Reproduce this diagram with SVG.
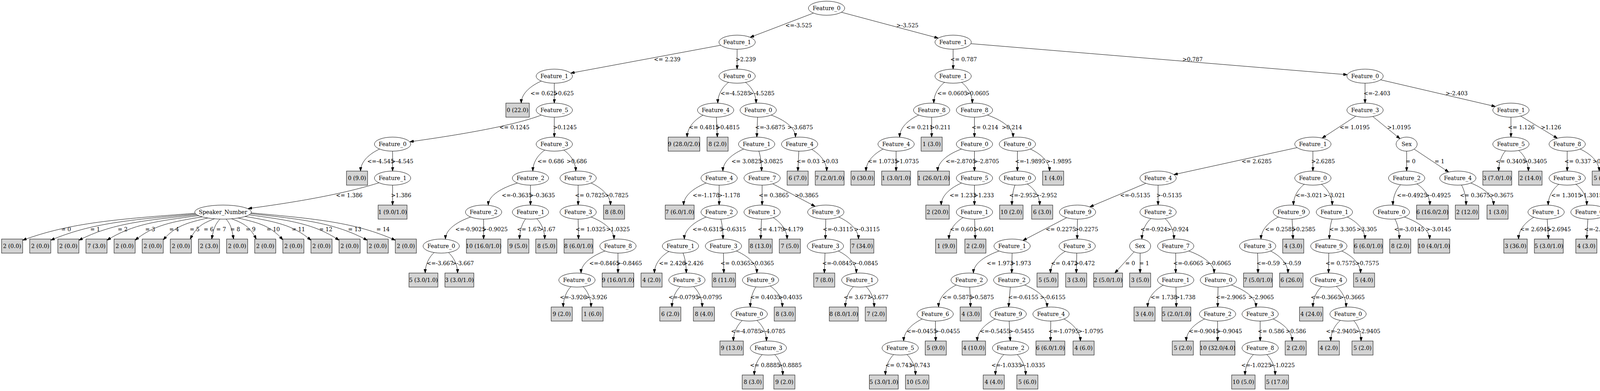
<svg xmlns="http://www.w3.org/2000/svg" width="4194" height="1001" viewBox="0 0 4194 1001">
<defs>
<style>
text{font-family:"DejaVu Serif",serif;font-size:14px;text-anchor:middle;fill:#000}
.n ellipse{fill:none;stroke:#000;stroke-width:1}
.l rect{fill:#d3d3d3;stroke:#000;stroke-width:1}
#edges path{fill:none;stroke:#000;stroke-width:1;marker-end:url(#ah)}
</style>
<marker id="ah" viewBox="0 0 10 7" refX="10" refY="3.5" markerWidth="10" markerHeight="7" markerUnits="userSpaceOnUse" orient="auto"><path d="M0,0L10,3.5L0,7z" fill="#000" stroke="#000" stroke-width="1"/></marker>
</defs>
<rect width="4194" height="1001" fill="#fff"/>
<g id="edges">
<g><path d="M2082.5,33.5L1920.5,95.5"/><text x="2044.6" y="69.5">&lt;=-3.525</text></g>
<g><path d="M2154,31.4L2402,97.6"/><text x="2323" y="69.5">&gt;-3.525</text></g>
<g><path d="M1845,115.8L1461,187.2"/><text x="1708" y="156.5">&lt;= 2.239</text></g>
<g><path d="M1887,126L1887,177"/><text x="1909" y="156.5">&gt;2.239</text></g>
<g><path d="M2440,126L2440,177"/><text x="2467" y="156.5">&lt;= 0.787</text></g>
<g><path d="M2485.5,111.8L3449,191.3"/><text x="3053" y="156.5">&gt;0.787</text></g>
<g><path d="M1386,207.5c-25.8,11.3 -51.6,31.1 -51.6,56.5"/><text x="1392" y="243.5">&lt;= 0.625</text></g>
<g><path d="M1419,213L1419,264"/><text x="1443" y="243.5">&gt;0.625</text></g>
<g><path d="M1865,210.8c-13.75,10.6 -27.5,29.3 -27.5,53.2"/><text x="1883" y="243.5">&lt;=-4.5285</text></g>
<g><path d="M1908.6,210.9c13.5,10.6 27,29.2 27,53.1"/><text x="1950" y="243.5">&gt;-4.5285</text></g>
<g><path d="M2418,210.8c-13.75,10.6 -27.5,29.3 -27.5,53.2"/><text x="2438" y="243.5">&lt;= 0.0605</text></g>
<g><path d="M2461.8,210.85c13.65,10.6 27.3,29.2 27.3,53.15"/><text x="2502" y="243.5">&gt;0.0605</text></g>
<g><path d="M3494.5,213L3494.5,264"/><text x="3525" y="243.5">&lt;=-2.403</text></g>
<g><path d="M3534.3,204.3L3828.2,272.7"/><text x="3729" y="243.5">&gt;-2.403</text></g>
<g><path d="M1385,295C1340,312 1250,335 1049,363"/><text x="1317" y="330.5">&lt;= 0.1245</text></g>
<g><path d="M1419,300L1419,351"/><text x="1446" y="330.5">&gt;0.1245</text></g>
<g><path d="M1799.6,294.8c-20.25,11.2 -40.5,30.9 -40.5,56.2"/><text x="1802" y="330.5">&lt;= 0.4815</text></g>
<g><path d="M1834,300L1836.5,351"/><text x="1863" y="330.5">&gt;0.4815</text></g>
<g><path d="M1939.4,300L1937.4,351"/><text x="1971.5" y="330.5">&lt;=-3.6875</text></g>
<g><path d="M1974,294.5c31.2,11.3 62.4,31.1 62.4,56.5"/><text x="2048.5" y="330.5">&gt;-3.6875</text></g>
<g><path d="M2352,294.5c-24.45,11.3 -48.9,31.1 -48.9,56.5"/><text x="2354" y="330.5">&lt;= 0.211</text></g>
<g><path d="M2385,300L2385,351"/><text x="2408" y="330.5">&gt;0.211</text></g>
<g><path d="M2494.6,300L2494.6,351"/><text x="2521.5" y="330.5">&lt;= 0.214</text></g>
<g><path d="M2527.6,294.5c32.95,11.3 65.9,31.1 65.9,56.5"/><text x="2590.5" y="330.5">&gt;0.214</text></g>
<g><path d="M3470.8,297.5L3384.7,353.5"/><text x="3468" y="330.5">&lt;= 1.0195</text></g>
<g><path d="M3514.4,298.3L3584,355.1"/><text x="3581.5" y="330.5">&gt;1.0195</text></g>
<g><path d="M3868,300L3868,351"/><text x="3894.5" y="330.5">&lt;= 1.126</text></g>
<g><path d="M3893.1,297.2L3986.9,353.9"/><text x="3970.5" y="330.5">&gt;1.126</text></g>
<g><path d="M972,381.5c-24.5,11.3 -48.9,31.1 -48.9,56.5"/><text x="974.5" y="417.5">&lt;=-4.545</text></g>
<g><path d="M1005,387L1005,438"/><text x="1030" y="417.5">&gt;-4.545</text></g>
<g><path d="M1394.6,384.3c-15.3,10.7 -30.5,29.5 -30.5,53.7"/><text x="1410" y="417.5">&lt;= 0.686</text></g>
<g><path d="M1443.4,384.3c15.3,10.7 30.5,29.5 30.5,53.7"/><text x="1476.5" y="417.5">&gt;0.686</text></g>
<g><path d="M1904,381.5c-26.7,11.3 -53.4,31.1 -53.4,56.5"/><text x="1911" y="417.5">&lt;= 3.0825</text></g>
<g><path d="M1942.6,386.9c3.5,10.2 7,28.1 7,51.1"/><text x="1974" y="417.5">&gt;3.0825</text></g>
<g><path d="M2045,387L2042.5,438"/><text x="2068.5" y="417.5">&lt;= 0.03</text></g>
<g><path d="M2077.8,382.4c19.25,11.1 38.5,30.6 38.5,55.6"/><text x="2124.5" y="417.5">&gt;0.03</text></g>
<g><path d="M2261,381.5c-22,11.3 -43.95,31.1 -43.95,56.5"/><text x="2260" y="417.5">&lt;= 1.0735</text></g>
<g><path d="M2294,387L2294,438"/><text x="2322" y="417.5">&gt;1.0735</text></g>
<g><path d="M2461.6,381.5c-30.55,11.3 -61.1,31.1 -61.1,56.5"/><text x="2459.5" y="417.5">&lt;=-2.8705</text></g>
<g><path d="M2494.6,387L2494.6,438"/><text x="2525" y="417.5">&gt;-2.8705</text></g>
<g><path d="M2604.5,387L2604.5,438"/><text x="2637" y="417.5">&lt;=-1.9895</text></g>
<g><path d="M2637.5,381.5c24.7,11.3 49.35,31.1 49.35,56.5"/><text x="2710.5" y="417.5">&gt;-1.9895</text></g>
<g><path d="M3320.6,377.9L3005.1,447.1"/><text x="3217" y="417.5">&lt;= 2.6285</text></g>
<g><path d="M3361,387L3361,438"/><text x="3387" y="417.5">&gt;2.6285</text></g>
<g><path d="M3601,387L3601,438"/><text x="3611" y="417.5">= 0</text></g>
<g><path d="M3620.1,381.7L3708.6,440.5"/><text x="3685" y="417.5">= 1</text></g>
<g><path d="M3854,386.15c-8.75,10.4 -17.5,28.5 -17.5,51.85"/><text x="3867.5" y="417.5">&lt;= 0.3405</text></g>
<g><path d="M3887.9,385.2c12.4,10.6 24.8,29 24.8,52.8"/><text x="3930" y="417.5">&gt;0.3405</text></g>
<g><path d="M4012,387L4012,438"/><text x="4039" y="417.5">&lt;= 0.337</text></g>
<g><path d="M4045,381.5c24.45,11.3 48.9,31.1 48.9,56.5"/><text x="4103" y="417.5">&gt;0.337</text></g>
<g><path d="M970,468C900,490 800,512 635,534"/><text x="894" y="504.5">&lt;= 1.386</text></g>
<g><path d="M1005,474L1005,525"/><text x="1027" y="504.5">&gt;1.386</text></g>
<g><path d="M1325,468.5c-37.5,11.3 -75,31.1 -75,56.5"/><text x="1323" y="504.5">&lt;=-0.3635</text></g>
<g><path d="M1358,474L1358,525"/><text x="1388" y="504.5">&gt;-0.3635</text></g>
<g><path d="M1480,474L1480,525"/><text x="1510.5" y="504.5">&lt;= 0.7825</text></g>
<g><path d="M1513,468.5c24.9,11.3 49.8,31.1 49.8,56.5"/><text x="1578.5" y="504.5">&gt;0.7825</text></g>
<g><path d="M1808,468.5c-28.95,11.3 -57.9,31.1 -57.9,56.5"/><text x="1807.5" y="504.5">&lt;=-1.178</text></g>
<g><path d="M1841,474L1841,525"/><text x="1866.5" y="504.5">&gt;-1.178</text></g>
<g><path d="M1951,474L1951,525"/><text x="1981" y="504.5">&lt;= 0.3865</text></g>
<g><path d="M1978.3,470.6L2086.7,528.4"/><text x="2065" y="504.5">&gt;0.3865</text></g>
<g><path d="M2461.6,468.5c-26.05,11.3 -52.1,31.1 -52.1,56.5"/><text x="2465" y="504.5">&lt;= 1.233</text></g>
<g><path d="M2494.6,474L2494.6,525"/><text x="2518.5" y="504.5">&gt;1.233</text></g>
<g><path d="M2598.3,473.8c-3.9,10.2 -7.75,28.2 -7.75,51.2"/><text x="2618" y="504.5">&lt;=-2.952</text></g>
<g><path d="M2629.9,471c15.9,10.8 31.75,29.7 31.75,54"/><text x="2678" y="504.5">&gt;-2.952</text></g>
<g><path d="M2933.3,469.3L2789.9,529.7"/><text x="2906" y="504.5">&lt;=-0.5135</text></g>
<g><path d="M2964.7,474L2964.7,525"/><text x="2993" y="504.5">&gt;-0.5135</text></g>
<g><path d="M3338.9,471.8c-13.8,10.6 -27.6,29.3 -27.6,53.2"/><text x="3351" y="504.5">&lt;=-3.021</text></g>
<g><path d="M3383,471.8c13.75,10.6 27.5,29.3 27.5,53.2"/><text x="3415.5" y="504.5">&gt;-3.021</text></g>
<g><path d="M3585.4,472.9c-9.75,10.4 -19.5,28.7 -19.5,52.1"/><text x="3614.5" y="504.5">&lt;=-0.4925</text></g>
<g><path d="M3627.4,470.7c16.5,10.9 33,29.9 33,54.3"/><text x="3681.5" y="504.5">&gt;-0.4925</text></g>
<g><path d="M3741.4,473.6c5.9,10.3 11.8,28.3 11.8,51.4"/><text x="3776" y="504.5">&lt;= 0.3675</text></g>
<g><path d="M3765,468.5c29.25,11.3 58.5,31.1 58.5,56.5"/><text x="3844" y="504.5">&gt;0.3675</text></g>
<g><path d="M3990.4,471.9c-13.5,10.6 -27,29.2 -27,53.1"/><text x="4009.5" y="504.5">&lt;= 1.3015</text></g>
<g><path d="M4034.3,471.75c13.9,10.65 27.8,29.3 27.8,53.25"/><text x="4072.5" y="504.5">&gt;1.3015</text></g>
<g><path d="M499,546C300.5,561.2 181.5,569.5 58,615"/><text x="169" y="591.5">= 0</text></g>
<g><path d="M501,548C334,562.7 233.9,570.8 130,615"/><text x="243.5" y="591.5">= 1</text></g>
<g><path d="M504,550C368.1,564.3 286.6,572.1 202,615"/><text x="314" y="591.5">= 2</text></g>
<g><path d="M509,552C403.3,565.9 339.8,573.4 274,615"/><text x="384.4" y="591.5">= 3</text></g>
<g><path d="M518,555C440.6,568.2 394.2,575.4 346,615"/><text x="445.7" y="591.5">= 4</text></g>
<g><path d="M532,558C480.7,570.3 449.9,577 418,614"/><text x="498.4" y="591.5">= 5</text></g>
<g><path d="M549,560C521.1,571.4 504.4,577.7 487,612"/><text x="534" y="591.5">= 6</text></g>
<g><path d="M563,561C553.6,572.2 547.9,578.3 542,612"/><text x="566" y="591.5">= 7</text></g>
<g><path d="M579,561C587.6,572.2 592.7,578.3 598,612"/><text x="602" y="591.5">= 8</text></g>
<g><path d="M593,560C621.4,571.4 638.4,577.7 656,612"/><text x="641.7" y="591.5">= 9</text></g>
<g><path d="M609,558C660.8,570.3 691.8,577 724,614"/><text x="699.5" y="591.5">= 10</text></g>
<g><path d="M627,554C703,567.4 748.7,574.7 796,615"/><text x="764" y="591.5">= 11</text></g>
<g><path d="M638,550C741.5,564.3 803.6,572.1 868,615"/><text x="834" y="591.5">= 12</text></g>
<g><path d="M642,547C776.1,562 856.6,570.1 940,615"/><text x="908" y="591.5">= 13</text></g>
<g><path d="M643,545C809,560.4 908.7,568.8 1012,615"/><text x="980.5" y="591.5">= 14</text></g>
<g><path d="M1205,555.5c-32.3,11.3 -64.65,31.1 -64.65,56.5"/><text x="1204" y="591.5">&lt;=-0.9025</text></g>
<g><path d="M1238,561L1238,612"/><text x="1267" y="591.5">&gt;-0.9025</text></g>
<g><path d="M1345.6,560.3c-7.75,10.3 -15.5,28.4 -15.5,51.7"/><text x="1353" y="591.5">&lt;= 1.67</text></g>
<g><path d="M1374.2,559.85c10.1,10.4 20.25,28.7 20.25,52.15"/><text x="1400.5" y="591.5">&gt;1.67</text></g>
<g><path d="M1480,561L1481,612"/><text x="1512" y="591.5">&lt;= 1.0325</text></g>
<g><path d="M1513,555.5c29.4,11.3 58.8,31.1 58.8,56.5"/><text x="1582" y="591.5">&gt;1.0325</text></g>
<g><path d="M1808,555.5c-28.05,11.3 -56.1,31.1 -56.1,56.5"/><text x="1811.5" y="591.5">&lt;=-0.6315</text></g>
<g><path d="M1845.4,560.9c2.75,10.2 5.5,28.1 5.5,51.1"/><text x="1877" y="591.5">&gt;-0.6315</text></g>
<g><path d="M1949.4,561L1947.4,612"/><text x="1974" y="591.5">&lt;= 4.179</text></g>
<g><path d="M1979.4,557.2c17.75,11 35.5,30.1 35.5,54.8"/><text x="2030.5" y="591.5">&gt;4.179</text></g>
<g><path d="M2114,561L2113,612"/><text x="2145" y="591.5">&lt;=-0.3115</text></g>
<g><path d="M2147,555.5c25.35,11.3 50.7,31.1 50.7,56.5"/><text x="2219.5" y="591.5">&gt;-0.3115</text></g>
<g><path d="M2465.6,557c-18.15,11 -36.3,30.25 -36.3,55"/><text x="2466" y="591.5">&lt;= 0.601</text></g>
<g><path d="M2495,561L2496.8,612"/><text x="2519.5" y="591.5">&gt;0.601</text></g>
<g><path d="M2730.7,557.4L2618.8,615.6"/><text x="2715.5" y="591.5">&lt;= 0.2275</text></g>
<g><path d="M2758.3,561L2757.6,612"/><text x="2781" y="591.5">&gt;0.2275</text></g>
<g><path d="M2946.3,559.5c-11.5,10.5 -22.95,28.9 -22.95,52.5"/><text x="2954" y="591.5">&lt;=-0.924</text></g>
<g><path d="M2982.7,559.6c11.3,10.5 22.6,28.8 22.6,52.4"/><text x="3015" y="591.5">&gt;-0.924</text></g>
<g><path d="M3272.8,555.5c-22.3,11.3 -44.6,31.1 -44.6,56.5"/><text x="3277" y="591.5">&lt;= 0.2585</text></g>
<g><path d="M3307.8,561L3310.2,612"/><text x="3337" y="591.5">&gt;0.2585</text></g>
<g><path d="M3410.3,560.85c-3.55,10.2 -7.1,28.1 -7.1,51.15"/><text x="3437" y="591.5">&lt;= 3.305</text></g>
<g><path d="M3449,555.5c22.65,11.3 45.3,31.1 45.3,56.5"/><text x="3499" y="591.5">&gt;3.305</text></g>
<g><path d="M3571,560.65c5.65,10.3 11.3,28.2 11.3,51.35"/><text x="3607.5" y="591.5">&lt;=-3.0145</text></g>
<g><path d="M3595,555.5c32.45,11.3 64.9,31.1 64.9,56.5"/><text x="3682.5" y="591.5">&gt;-3.0145</text></g>
<g><path d="M3926.7,556.2c-19.6,11.2 -39.2,30.7 -39.2,55.8"/><text x="3930" y="591.5">&lt;= 2.6945</text></g>
<g><path d="M3960.8,561L3964.3,612"/><text x="3991" y="591.5">&gt;2.6945</text></g>
<g><path d="M4065,561L4061.7,612"/><text x="4094" y="591.5">&lt;=-2.1505</text></g>
<g><path d="M4099.3,556.1c19.75,11.2 39.5,30.7 39.5,55.9"/><text x="4163" y="591.5">&gt;-2.1505</text></g>
<g><path d="M1111.3,646.5c-11.4,10.5 -22.75,28.9 -22.75,52.5"/><text x="1126.5" y="678.5">&lt;=-3.667</text></g>
<g><path d="M1148.1,646.5c11.6,10.5 23.25,28.9 23.25,52.5"/><text x="1185" y="678.5">&gt;-3.667</text></g>
<g><path d="M1549,642.5c-30.75,11.3 -61.5,31.1 -61.5,56.5"/><text x="1547" y="678.5">&lt;=-0.8465</text></g>
<g><path d="M1582,648L1582,699"/><text x="1611" y="678.5">&gt;-0.8465</text></g>
<g><path d="M1712.4,643.8c-18.5,11 -37,30.4 -37,55.2"/><text x="1721" y="678.5">&lt;= 2.426</text></g>
<g><path d="M1748.6,647.8c4.1,10.2 8.25,28.2 8.25,51.2"/><text x="1775" y="678.5">&gt;2.426</text></g>
<g><path d="M1852,648L1853,699"/><text x="1883" y="678.5">&lt;= 0.0365</text></g>
<g><path d="M1885,642.5c26.25,11.3 52.5,31.1 52.5,56.5"/><text x="1951" y="678.5">&gt;0.0365</text></g>
<g><path d="M2112,648L2110.3,699"/><text x="2143.5" y="678.5">&lt;=-0.0845</text></g>
<g><path d="M2146,642.5c23.1,11.3 46.2,31.1 46.2,56.5"/><text x="2215" y="678.5">&gt;-0.0845</text></g>
<g><path d="M2558,642.5c-33,11.3 -66,31.1 -66,56.5"/><text x="2560" y="678.5">&lt;= 1.973</text></g>
<g><path d="M2591,648L2590,699"/><text x="2613.5" y="678.5">&gt;1.973</text></g>
<g><path d="M2727.2,643.5c-18.95,11.1 -37.9,30.5 -37.9,55.5"/><text x="2724.5" y="678.5">&lt;= 0.472</text></g>
<g><path d="M2756.6,648L2755.3,699"/><text x="2777" y="678.5">&gt;0.472</text></g>
<g><path d="M2903,645L2854,699"/><text x="2893" y="678.5">= 0</text></g>
<g><path d="M2918.75,648L2918.75,699"/><text x="2929" y="678.5">= 1</text></g>
<g><path d="M3009.8,648L3009.8,699"/><text x="3042" y="678.5">&lt;=-0.6065</text></g>
<g><path d="M3042.8,642.5c32.65,11.3 65.3,31.1 65.3,56.5"/><text x="3119" y="678.5">&gt;-0.6065</text></g>
<g><path d="M3219.6,648L3220.5,699"/><text x="3246.5" y="678.5">&lt;=-0.59</text></g>
<g><path d="M3252.6,642.5c22.3,11.3 44.6,31.1 44.6,56.5"/><text x="3307" y="678.5">&gt;-0.59</text></g>
<g><path d="M3401.7,648L3401,699"/><text x="3432" y="678.5">&lt;= 0.7575</text></g>
<g><path d="M3434.8,642.5c24.1,11.3 48.2,31.1 48.2,56.5"/><text x="3500" y="678.5">&gt;0.7575</text></g>
<g><path d="M1461.4,733.9c-9.75,10.4 -19.5,28.7 -19.5,52.1"/><text x="1467.5" y="765.5">&lt;=-3.926</text></g>
<g><path d="M1493,733.9c10,10.4 20,28.7 20,52.1"/><text x="1526" y="765.5">&gt;-3.926</text></g>
<g><path d="M1741.5,733.7c-10.6,10.5 -21.25,28.8 -21.25,52.3"/><text x="1750" y="765.5">&lt;=-0.0795</text></g>
<g><path d="M1775.9,733.7c10.9,10.5 21.75,28.8 21.75,52.3"/><text x="1816" y="765.5">&gt;-0.0795</text></g>
<g><path d="M1935.4,734.4c-7.25,10.3 -14.5,28.4 -14.5,51.6"/><text x="1959" y="765.5">&lt;= 0.4035</text></g>
<g><path d="M1971.8,732.2c15.5,10.8 31,29.6 31,53.8"/><text x="2023.5" y="765.5">&gt;0.4035</text></g>
<g><path d="M2184.6,733.8c-10.25,10.4 -20.5,28.7 -20.5,52.2"/><text x="2194" y="765.5">&lt;= 3.677</text></g>
<g><path d="M2217.4,733.8c10.25,10.4 20.5,28.7 20.5,52.2"/><text x="2248.5" y="765.5">&gt;3.677</text></g>
<g><path d="M2448,729.5c-22.65,11.3 -45.3,31.1 -45.3,56.5"/><text x="2451" y="765.5">&lt;= 0.5875</text></g>
<g><path d="M2482.6,735L2484.6,786"/><text x="2514" y="765.5">&gt;0.5875</text></g>
<g><path d="M2586.4,735L2581.9,786"/><text x="2619.5" y="765.5">&lt;=-0.6155</text></g>
<g><path d="M2623,729.5c28.75,11.3 57.5,31.1 57.5,56.5"/><text x="2695" y="765.5">&gt;-0.6155</text></g>
<g><path d="M2977.9,730c-19.95,11.2 -39.9,30.8 -39.9,56"/><text x="2979.5" y="765.5">&lt;= 1.738</text></g>
<g><path d="M3010.5,735L3011.4,786"/><text x="3034.5" y="765.5">&gt;1.738</text></g>
<g><path d="M3118.2,735L3117.2,786"/><text x="3151" y="765.5">&lt;=-2.9065</text></g>
<g><path d="M3152,729.5c31.65,11.3 63.3,31.1 63.3,56.5"/><text x="3228.5" y="765.5">&gt;-2.9065</text></g>
<g><path d="M3383.3,733.6c-11.1,10.5 -22.2,28.8 -22.2,52.4"/><text x="3394" y="765.5">&lt;=-0.3665</text></g>
<g><path d="M3421,733.2c12.5,10.6 25,29 25,52.8"/><text x="3461" y="765.5">&gt;-0.3665</text></g>
<g><path d="M1900,820.6c-11.25,10.5 -22.5,28.8 -22.5,52.4"/><text x="1910" y="852.5">&lt;=-4.0785</text></g>
<g><path d="M1937.6,820.3c12.25,10.5 24.5,29 24.5,52.7"/><text x="1978" y="852.5">&gt;-4.0785</text></g>
<g><path d="M2361,816.5c-23.8,11.3 -47.55,31.1 -47.55,56.5"/><text x="2359.5" y="852.5">&lt;=-0.0455</text></g>
<g><path d="M2394.6,822L2395.4,873"/><text x="2425" y="852.5">&gt;-0.0455</text></g>
<g><path d="M2548,816.5c-23.1,11.3 -46.2,31.1 -46.2,56.5"/><text x="2547" y="852.5">&lt;=-0.5455</text></g>
<g><path d="M2583.4,822L2586.4,873"/><text x="2615" y="852.5">&gt;-0.5455</text></g>
<g><path d="M2690,822L2689.2,873"/><text x="2722.5" y="852.5">&lt;=-1.0795</text></g>
<g><path d="M2723.6,816.5c21.03,11.3 42.06,31.1 42.06,56.5"/><text x="2792" y="852.5">&gt;-1.0795</text></g>
<g><path d="M3084,816.5c-23.55,11.3 -47.1,31.1 -47.1,56.5"/><text x="3082" y="852.5">&lt;=-0.9045</text></g>
<g><path d="M3117,822L3117,873"/><text x="3147" y="852.5">&gt;-0.9045</text></g>
<g><path d="M3226,822L3226,873"/><text x="3254" y="852.5">&lt;= 0.586</text></g>
<g><path d="M3259,816.5c24.45,11.3 48.9,31.1 48.9,56.5"/><text x="3317.5" y="852.5">&gt;0.586</text></g>
<g><path d="M3431.3,820.3c-12.3,10.5 -24.6,29 -24.6,52.7"/><text x="3433" y="852.5">&lt;=-2.9405</text></g>
<g><path d="M3465.8,821c9.25,10.4 18.5,28.6 18.5,52"/><text x="3501" y="852.5">&gt;-2.9405</text></g>
<g><path d="M1951,907.9c-10,10.4 -20,28.7 -20,52.1"/><text x="1958.5" y="939.5">&lt;= 0.8885</text></g>
<g><path d="M1983.4,907.8c10.25,10.4 20.5,28.7 20.5,52.2"/><text x="2022" y="939.5">&gt;0.8885</text></g>
<g><path d="M2287.7,907.75c-10.5,10.45 -21,28.7 -21,52.25"/><text x="2300.5" y="939.5">&lt;= 0.743</text></g>
<g><path d="M2321.9,907.7c10.9,10.5 21.75,28.8 21.75,52.3"/><text x="2355" y="939.5">&gt;0.743</text></g>
<g><path d="M2569.8,907.7c-10.75,10.5 -21.5,28.8 -21.5,52.3"/><text x="2576.5" y="939.5">&lt;=-1.0335</text></g>
<g><path d="M2604.2,907.7c10.75,10.5 21.5,28.8 21.5,52.3"/><text x="2643" y="939.5">&gt;-1.0335</text></g>
<g><path d="M3208.8,907.7c-10.75,10.5 -21.5,28.8 -21.5,52.3"/><text x="3216" y="939.5">&lt;=-1.0225</text></g>
<g><path d="M3243.1,907.7c10.7,10.5 21.35,28.8 21.35,52.3"/><text x="3282" y="939.5">&gt;-1.0225</text></g>
</g>
<g id="nodes">
<g id="n0" class="n"><ellipse cx="2116" cy="21" rx="46.5" ry="18"/><text x="2116" y="26">Feature_0</text></g>
<g id="n1" class="n"><ellipse cx="1887" cy="108" rx="46.5" ry="18"/><text x="1887" y="113">Feature_1</text></g>
<g id="n2" class="n"><ellipse cx="2440" cy="108" rx="46.5" ry="18"/><text x="2440" y="113">Feature_1</text></g>
<g id="n3" class="n"><ellipse cx="1419" cy="195" rx="46.5" ry="18"/><text x="1419" y="200">Feature_1</text></g>
<g id="n4" class="n"><ellipse cx="1887" cy="195" rx="46.5" ry="18"/><text x="1887" y="200">Feature_0</text></g>
<g id="n5" class="l"><rect x="1295" y="264" width="60" height="36"/><text x="1325" y="287">0 (22.0)</text></g>
<g id="n6" class="n"><ellipse cx="1419" cy="282" rx="46.5" ry="18"/><text x="1419" y="287">Feature_5</text></g>
<g id="n7" class="n"><ellipse cx="1005" cy="369" rx="46.5" ry="18"/><text x="1005" y="374">Feature_0</text></g>
<g id="n8" class="n"><ellipse cx="1419" cy="369" rx="46.5" ry="18"/><text x="1419" y="374">Feature_3</text></g>
<g id="n9" class="l"><rect x="887" y="438" width="54" height="36"/><text x="914" y="461">0 (9.0)</text></g>
<g id="n10" class="n"><ellipse cx="1005" cy="456" rx="46.5" ry="18"/><text x="1005" y="461">Feature_1</text></g>
<g id="n11" class="n"><ellipse cx="571" cy="543" rx="72.5" ry="18"/><text x="571" y="548">Speaker_Number</text></g>
<g id="n12" class="l"><rect x="968" y="525" width="74" height="36"/><text x="1005" y="548">1 (9.0/1.0)</text></g>
<g id="n13" class="l"><rect x="4" y="612" width="54" height="36"/><text x="31" y="635">2 (0.0)</text></g>
<g id="n14" class="l"><rect x="76" y="612" width="54" height="36"/><text x="103" y="635">2 (0.0)</text></g>
<g id="n15" class="l"><rect x="148" y="612" width="54" height="36"/><text x="175" y="635">2 (0.0)</text></g>
<g id="n16" class="l"><rect x="220" y="612" width="54" height="36"/><text x="247" y="635">7 (3.0)</text></g>
<g id="n17" class="l"><rect x="292" y="612" width="54" height="36"/><text x="319" y="635">2 (0.0)</text></g>
<g id="n18" class="l"><rect x="364" y="612" width="54" height="36"/><text x="391" y="635">2 (0.0)</text></g>
<g id="n19" class="l"><rect x="436" y="612" width="54" height="36"/><text x="463" y="635">2 (0.0)</text></g>
<g id="n20" class="l"><rect x="508" y="612" width="54" height="36"/><text x="535" y="635">2 (3.0)</text></g>
<g id="n21" class="l"><rect x="580" y="612" width="54" height="36"/><text x="607" y="635">2 (0.0)</text></g>
<g id="n22" class="l"><rect x="652" y="612" width="54" height="36"/><text x="679" y="635">2 (0.0)</text></g>
<g id="n23" class="l"><rect x="724" y="612" width="54" height="36"/><text x="751" y="635">2 (0.0)</text></g>
<g id="n24" class="l"><rect x="796" y="612" width="54" height="36"/><text x="823" y="635">2 (0.0)</text></g>
<g id="n25" class="l"><rect x="868" y="612" width="54" height="36"/><text x="895" y="635">2 (0.0)</text></g>
<g id="n26" class="l"><rect x="940" y="612" width="54" height="36"/><text x="967" y="635">2 (0.0)</text></g>
<g id="n27" class="l"><rect x="1012" y="612" width="54" height="36"/><text x="1039" y="635">2 (0.0)</text></g>
<g id="n28" class="n"><ellipse cx="1358" cy="456" rx="46.5" ry="18"/><text x="1358" y="461">Feature_2</text></g>
<g id="n29" class="n"><ellipse cx="1480" cy="456" rx="46.5" ry="18"/><text x="1480" y="461">Feature_7</text></g>
<g id="n30" class="n"><ellipse cx="1238" cy="543" rx="46.5" ry="18"/><text x="1238" y="548">Feature_2</text></g>
<g id="n31" class="n"><ellipse cx="1358" cy="543" rx="46.5" ry="18"/><text x="1358" y="548">Feature_1</text></g>
<g id="n32" class="n"><ellipse cx="1129.5" cy="630" rx="46.5" ry="18"/><text x="1129.5" y="635">Feature_0</text></g>
<g id="n33" class="l"><rect x="1194" y="612" width="88" height="36"/><text x="1238" y="635">10 (16.0/1.0)</text></g>
<g id="n34" class="l"><rect x="1047" y="699" width="74" height="36"/><text x="1084" y="722">5 (3.0/1.0)</text></g>
<g id="n35" class="l"><rect x="1139" y="699" width="74" height="36"/><text x="1176" y="722">3 (3.0/1.0)</text></g>
<g id="n36" class="l"><rect x="1300" y="612" width="54" height="36"/><text x="1327" y="635">9 (5.0)</text></g>
<g id="n37" class="l"><rect x="1371.5" y="612" width="54" height="36"/><text x="1398.5" y="635">8 (5.0)</text></g>
<g id="n38" class="n"><ellipse cx="1480" cy="543" rx="46.5" ry="18"/><text x="1480" y="548">Feature_3</text></g>
<g id="n39" class="l"><rect x="1545" y="525" width="54" height="36"/><text x="1572" y="548">8 (8.0)</text></g>
<g id="n40" class="l"><rect x="1444" y="612" width="74" height="36"/><text x="1481" y="635">8 (6.0/1.0)</text></g>
<g id="n41" class="n"><ellipse cx="1582" cy="630" rx="46.5" ry="18"/><text x="1582" y="635">Feature_8</text></g>
<g id="n42" class="n"><ellipse cx="1477" cy="717" rx="46.5" ry="18"/><text x="1477" y="722">Feature_0</text></g>
<g id="n43" class="l"><rect x="1541.5" y="699" width="81" height="36"/><text x="1582" y="722">9 (16.0/1.0)</text></g>
<g id="n44" class="l"><rect x="1411" y="786" width="54" height="36"/><text x="1438" y="809">9 (2.0)</text></g>
<g id="n45" class="l"><rect x="1490" y="786" width="54" height="36"/><text x="1517" y="809">1 (6.0)</text></g>
<g id="n46" class="n"><ellipse cx="1832" cy="282" rx="46.5" ry="18"/><text x="1832" y="287">Feature_4</text></g>
<g id="n47" class="n"><ellipse cx="1941" cy="282" rx="46.5" ry="18"/><text x="1941" y="287">Feature_0</text></g>
<g id="n48" class="l"><rect x="1710.5" y="351" width="81" height="36"/><text x="1751" y="374">9 (28.0/2.0)</text></g>
<g id="n49" class="l"><rect x="1810" y="351" width="54" height="36"/><text x="1837" y="374">8 (2.0)</text></g>
<g id="n50" class="n"><ellipse cx="1937" cy="369" rx="46.5" ry="18"/><text x="1937" y="374">Feature_1</text></g>
<g id="n51" class="n"><ellipse cx="2047" cy="369" rx="46.5" ry="18"/><text x="2047" y="374">Feature_4</text></g>
<g id="n52" class="n"><ellipse cx="1841" cy="456" rx="46.5" ry="18"/><text x="1841" y="461">Feature_4</text></g>
<g id="n53" class="n"><ellipse cx="1951" cy="456" rx="46.5" ry="18"/><text x="1951" y="461">Feature_7</text></g>
<g id="n54" class="l"><rect x="2015" y="438" width="54" height="36"/><text x="2042" y="461">6 (7.0)</text></g>
<g id="n55" class="l"><rect x="2087" y="438" width="74" height="36"/><text x="2124" y="461">7 (2.0/1.0)</text></g>
<g id="n56" class="l"><rect x="1703" y="525" width="74" height="36"/><text x="1740" y="548">7 (6.0/1.0)</text></g>
<g id="n57" class="n"><ellipse cx="1841" cy="543" rx="46.5" ry="18"/><text x="1841" y="548">Feature_2</text></g>
<g id="n58" class="n"><ellipse cx="1951" cy="543" rx="46.5" ry="18"/><text x="1951" y="548">Feature_1</text></g>
<g id="n59" class="n"><ellipse cx="2114" cy="543" rx="46.5" ry="18"/><text x="2114" y="548">Feature_9</text></g>
<g id="n60" class="n"><ellipse cx="1742" cy="630" rx="46.5" ry="18"/><text x="1742" y="635">Feature_1</text></g>
<g id="n61" class="n"><ellipse cx="1852" cy="630" rx="46.5" ry="18"/><text x="1852" y="635">Feature_3</text></g>
<g id="n62" class="l"><rect x="1641" y="699" width="54" height="36"/><text x="1668" y="722">4 (2.0)</text></g>
<g id="n63" class="n"><ellipse cx="1758.5" cy="717" rx="46.5" ry="18"/><text x="1758.5" y="722">Feature_3</text></g>
<g id="n64" class="l"><rect x="1689" y="786" width="54" height="36"/><text x="1716" y="809">6 (2.0)</text></g>
<g id="n65" class="l"><rect x="1775" y="786" width="54" height="36"/><text x="1802" y="809">8 (4.0)</text></g>
<g id="n66" class="l"><rect x="1823" y="699" width="60" height="36"/><text x="1853" y="722">8 (11.0)</text></g>
<g id="n67" class="n"><ellipse cx="1947" cy="717" rx="46.5" ry="18"/><text x="1947" y="722">Feature_9</text></g>
<g id="n68" class="n"><ellipse cx="1918" cy="804" rx="46.5" ry="18"/><text x="1918" y="809">Feature_0</text></g>
<g id="n69" class="l"><rect x="1982" y="786" width="54" height="36"/><text x="2009" y="809">8 (3.0)</text></g>
<g id="n70" class="l"><rect x="1843" y="873" width="60" height="36"/><text x="1873" y="896">9 (13.0)</text></g>
<g id="n71" class="n"><ellipse cx="1967" cy="891" rx="46.5" ry="18"/><text x="1967" y="896">Feature_3</text></g>
<g id="n72" class="l"><rect x="1900" y="960" width="54" height="36"/><text x="1927" y="983">8 (3.0)</text></g>
<g id="n73" class="l"><rect x="1981" y="960" width="54" height="36"/><text x="2008" y="983">9 (2.0)</text></g>
<g id="n74" class="l"><rect x="1917" y="612" width="60" height="36"/><text x="1947" y="635">8 (13.0)</text></g>
<g id="n75" class="l"><rect x="1995" y="612" width="54" height="36"/><text x="2022" y="635">7 (5.0)</text></g>
<g id="n76" class="n"><ellipse cx="2113" cy="630" rx="46.5" ry="18"/><text x="2113" y="635">Feature_3</text></g>
<g id="n77" class="l"><rect x="2177" y="612" width="60" height="36"/><text x="2207" y="635">7 (34.0)</text></g>
<g id="n78" class="l"><rect x="2083" y="699" width="54" height="36"/><text x="2110" y="722">7 (8.0)</text></g>
<g id="n79" class="n"><ellipse cx="2201" cy="717" rx="46.5" ry="18"/><text x="2201" y="722">Feature_1</text></g>
<g id="n80" class="l"><rect x="2123" y="786" width="74" height="36"/><text x="2160" y="809">8 (8.0/1.0)</text></g>
<g id="n81" class="l"><rect x="2215" y="786" width="54" height="36"/><text x="2242" y="809">7 (2.0)</text></g>
<g id="n82" class="n"><ellipse cx="2440" cy="195" rx="46.5" ry="18"/><text x="2440" y="200">Feature_1</text></g>
<g id="n83" class="n"><ellipse cx="3494.5" cy="195" rx="46.5" ry="18"/><text x="3494.5" y="200">Feature_0</text></g>
<g id="n84" class="n"><ellipse cx="2385" cy="282" rx="46.5" ry="18"/><text x="2385" y="287">Feature_8</text></g>
<g id="n85" class="n"><ellipse cx="2494.6" cy="282" rx="46.5" ry="18"/><text x="2494.6" y="287">Feature_8</text></g>
<g id="n86" class="n"><ellipse cx="2294" cy="369" rx="46.5" ry="18"/><text x="2294" y="374">Feature_4</text></g>
<g id="n87" class="l"><rect x="2358" y="351" width="54" height="36"/><text x="2385" y="374">1 (3.0)</text></g>
<g id="n88" class="l"><rect x="2178.5" y="438" width="60" height="36"/><text x="2208.5" y="461">0 (30.0)</text></g>
<g id="n89" class="l"><rect x="2257" y="438" width="74" height="36"/><text x="2294" y="461">1 (3.0/1.0)</text></g>
<g id="n90" class="n"><ellipse cx="2494.6" cy="369" rx="46.5" ry="18"/><text x="2494.6" y="374">Feature_0</text></g>
<g id="n91" class="n"><ellipse cx="2604.5" cy="369" rx="46.5" ry="18"/><text x="2604.5" y="374">Feature_0</text></g>
<g id="n92" class="l"><rect x="2349.5" y="438" width="81" height="36"/><text x="2390" y="461">1 (26.0/1.0)</text></g>
<g id="n93" class="n"><ellipse cx="2494.6" cy="456" rx="46.5" ry="18"/><text x="2494.6" y="461">Feature_5</text></g>
<g id="n94" class="n"><ellipse cx="2604.5" cy="456" rx="46.5" ry="18"/><text x="2604.5" y="461">Feature_0</text></g>
<g id="n95" class="l"><rect x="2669" y="438" width="54" height="36"/><text x="2696" y="461">1 (4.0)</text></g>
<g id="n96" class="l"><rect x="2370" y="525" width="60" height="36"/><text x="2400" y="548">2 (20.0)</text></g>
<g id="n97" class="n"><ellipse cx="2494.6" cy="543" rx="46.5" ry="18"/><text x="2494.6" y="548">Feature_1</text></g>
<g id="n98" class="l"><rect x="2395" y="612" width="54" height="36"/><text x="2422" y="635">1 (9.0)</text></g>
<g id="n99" class="l"><rect x="2470" y="612" width="54" height="36"/><text x="2497" y="635">2 (2.0)</text></g>
<g id="n100" class="l"><rect x="2559" y="525" width="60" height="36"/><text x="2589" y="548">10 (2.0)</text></g>
<g id="n101" class="l"><rect x="2641" y="525" width="54" height="36"/><text x="2668" y="548">6 (3.0)</text></g>
<g id="n102" class="n"><ellipse cx="3494.5" cy="282" rx="46.5" ry="18"/><text x="3494.5" y="287">Feature_3</text></g>
<g id="n103" class="n"><ellipse cx="3868" cy="282" rx="46.5" ry="18"/><text x="3868" y="287">Feature_1</text></g>
<g id="n104" class="n"><ellipse cx="3361" cy="369" rx="46.5" ry="18"/><text x="3361" y="374">Feature_1</text></g>
<g id="n105" class="n"><ellipse cx="3601" cy="369" rx="27" ry="18"/><text x="3601" y="374">Sex</text></g>
<g id="n106" class="n"><ellipse cx="2964.7" cy="456" rx="46.5" ry="18"/><text x="2964.7" y="461">Feature_4</text></g>
<g id="n107" class="n"><ellipse cx="3361" cy="456" rx="46.5" ry="18"/><text x="3361" y="461">Feature_0</text></g>
<g id="n108" class="n"><ellipse cx="2758.5" cy="543" rx="46.5" ry="18"/><text x="2758.5" y="548">Feature_9</text></g>
<g id="n109" class="n"><ellipse cx="2964.7" cy="543" rx="46.5" ry="18"/><text x="2964.7" y="548">Feature_2</text></g>
<g id="n110" class="n"><ellipse cx="2591" cy="630" rx="46.5" ry="18"/><text x="2591" y="635">Feature_1</text></g>
<g id="n111" class="n"><ellipse cx="2757.6" cy="630" rx="46.5" ry="18"/><text x="2757.6" y="635">Feature_3</text></g>
<g id="n112" class="n"><ellipse cx="2481" cy="717" rx="46.5" ry="18"/><text x="2481" y="722">Feature_2</text></g>
<g id="n113" class="n"><ellipse cx="2590" cy="717" rx="46.5" ry="18"/><text x="2590" y="722">Feature_2</text></g>
<g id="n114" class="n"><ellipse cx="2394" cy="804" rx="46.5" ry="18"/><text x="2394" y="809">Feature_6</text></g>
<g id="n115" class="l"><rect x="2458" y="786" width="54" height="36"/><text x="2485" y="809">4 (3.0)</text></g>
<g id="n116" class="n"><ellipse cx="2304.5" cy="891" rx="46.5" ry="18"/><text x="2304.5" y="896">Feature_5</text></g>
<g id="n117" class="l"><rect x="2368.5" y="873" width="54" height="36"/><text x="2395.5" y="896">5 (9.0)</text></g>
<g id="n118" class="l"><rect x="2225.5" y="960" width="74" height="36"/><text x="2262.5" y="983">5 (3.0/1.0)</text></g>
<g id="n119" class="l"><rect x="2318" y="960" width="60" height="36"/><text x="2348" y="983">10 (5.0)</text></g>
<g id="n120" class="n"><ellipse cx="2581" cy="804" rx="46.5" ry="18"/><text x="2581" y="809">Feature_9</text></g>
<g id="n121" class="n"><ellipse cx="2690.6" cy="804" rx="46.5" ry="18"/><text x="2690.6" y="809">Feature_4</text></g>
<g id="n122" class="l"><rect x="2463" y="873" width="60" height="36"/><text x="2493" y="896">4 (10.0)</text></g>
<g id="n123" class="n"><ellipse cx="2587" cy="891" rx="46.5" ry="18"/><text x="2587" y="896">Feature_2</text></g>
<g id="n124" class="l"><rect x="2517" y="960" width="54" height="36"/><text x="2544" y="983">4 (4.0)</text></g>
<g id="n125" class="l"><rect x="2603" y="960" width="54" height="36"/><text x="2630" y="983">5 (6.0)</text></g>
<g id="n126" class="l"><rect x="2652" y="873" width="74" height="36"/><text x="2689" y="896">6 (6.0/1.0)</text></g>
<g id="n127" class="l"><rect x="2747" y="873" width="54" height="36"/><text x="2774" y="896">4 (6.0)</text></g>
<g id="n128" class="l"><rect x="2654.7" y="699" width="54" height="36"/><text x="2681.7" y="722">5 (5.0)</text></g>
<g id="n129" class="l"><rect x="2728" y="699" width="54" height="36"/><text x="2755" y="722">3 (3.0)</text></g>
<g id="n130" class="n"><ellipse cx="2918.75" cy="630" rx="27" ry="18"/><text x="2918.75" y="635">Sex</text></g>
<g id="n131" class="n"><ellipse cx="3009.8" cy="630" rx="46.5" ry="18"/><text x="3009.8" y="635">Feature_7</text></g>
<g id="n132" class="l"><rect x="2799.7" y="699" width="74" height="36"/><text x="2836.7" y="722">2 (5.0/1.0)</text></g>
<g id="n133" class="l"><rect x="2891.75" y="699" width="54" height="36"/><text x="2918.75" y="722">3 (5.0)</text></g>
<g id="n134" class="n"><ellipse cx="3009.8" cy="717" rx="46.5" ry="18"/><text x="3009.8" y="722">Feature_1</text></g>
<g id="n135" class="n"><ellipse cx="3119" cy="717" rx="46.5" ry="18"/><text x="3119" y="722">Feature_0</text></g>
<g id="n136" class="l"><rect x="2903" y="786" width="54" height="36"/><text x="2930" y="809">3 (4.0)</text></g>
<g id="n137" class="l"><rect x="2974.6" y="786" width="74" height="36"/><text x="3011.6" y="809">5 (2.0/1.0)</text></g>
<g id="n138" class="n"><ellipse cx="3117" cy="804" rx="46.5" ry="18"/><text x="3117" y="809">Feature_2</text></g>
<g id="n139" class="n"><ellipse cx="3226" cy="804" rx="46.5" ry="18"/><text x="3226" y="809">Feature_3</text></g>
<g id="n140" class="l"><rect x="3001" y="873" width="54" height="36"/><text x="3028" y="896">5 (2.0)</text></g>
<g id="n141" class="l"><rect x="3072.5" y="873" width="89" height="36"/><text x="3117" y="896">10 (32.0/4.0)</text></g>
<g id="n142" class="n"><ellipse cx="3226" cy="891" rx="46.5" ry="18"/><text x="3226" y="896">Feature_8</text></g>
<g id="n143" class="l"><rect x="3290" y="873" width="54" height="36"/><text x="3317" y="896">2 (2.0)</text></g>
<g id="n144" class="l"><rect x="3153" y="960" width="60" height="36"/><text x="3183" y="983">10 (5.0)</text></g>
<g id="n145" class="l"><rect x="3238.75" y="960" width="60" height="36"/><text x="3268.75" y="983">5 (17.0)</text></g>
<g id="n146" class="n"><ellipse cx="3305.8" cy="543" rx="46.5" ry="18"/><text x="3305.8" y="548">Feature_9</text></g>
<g id="n147" class="n"><ellipse cx="3416" cy="543" rx="46.5" ry="18"/><text x="3416" y="548">Feature_1</text></g>
<g id="n148" class="n"><ellipse cx="3219.6" cy="630" rx="46.5" ry="18"/><text x="3219.6" y="635">Feature_3</text></g>
<g id="n149" class="l"><rect x="3283.7" y="612" width="54" height="36"/><text x="3310.7" y="635">4 (3.0)</text></g>
<g id="n150" class="l"><rect x="3183.5" y="699" width="74" height="36"/><text x="3220.5" y="722">7 (5.0/1.0)</text></g>
<g id="n151" class="l"><rect x="3275.8" y="699" width="60" height="36"/><text x="3305.8" y="722">6 (26.0)</text></g>
<g id="n152" class="n"><ellipse cx="3401.8" cy="630" rx="46.5" ry="18"/><text x="3401.8" y="635">Feature_9</text></g>
<g id="n153" class="l"><rect x="3466" y="612" width="74" height="36"/><text x="3503" y="635">6 (6.0/1.0)</text></g>
<g id="n154" class="n"><ellipse cx="3401" cy="717" rx="46.5" ry="18"/><text x="3401" y="722">Feature_4</text></g>
<g id="n155" class="l"><rect x="3465" y="699" width="54" height="36"/><text x="3492" y="722">5 (4.0)</text></g>
<g id="n156" class="l"><rect x="3326.7" y="786" width="60" height="36"/><text x="3356.7" y="809">4 (24.0)</text></g>
<g id="n157" class="n"><ellipse cx="3451" cy="804" rx="46.5" ry="18"/><text x="3451" y="809">Feature_0</text></g>
<g id="n158" class="l"><rect x="3374.8" y="873" width="54" height="36"/><text x="3401.8" y="896">4 (2.0)</text></g>
<g id="n159" class="l"><rect x="3461" y="873" width="54" height="36"/><text x="3488" y="896">5 (2.0)</text></g>
<g id="n160" class="n"><ellipse cx="3601" cy="456" rx="46.5" ry="18"/><text x="3601" y="461">Feature_2</text></g>
<g id="n161" class="n"><ellipse cx="3732" cy="456" rx="46.5" ry="18"/><text x="3732" y="461">Feature_4</text></g>
<g id="n162" class="n"><ellipse cx="3562" cy="543" rx="46.5" ry="18"/><text x="3562" y="548">Feature_0</text></g>
<g id="n163" class="l"><rect x="3626.5" y="525" width="81" height="36"/><text x="3667" y="548">6 (16.0/2.0)</text></g>
<g id="n164" class="l"><rect x="3557.6" y="612" width="54" height="36"/><text x="3584.6" y="635">8 (2.0)</text></g>
<g id="n165" class="l"><rect x="3630.3" y="612" width="81" height="36"/><text x="3670.8" y="635">10 (4.0/1.0)</text></g>
<g id="n166" class="l"><rect x="3725.6" y="525" width="60" height="36"/><text x="3755.6" y="548">2 (12.0)</text></g>
<g id="n167" class="l"><rect x="3806.7" y="525" width="54" height="36"/><text x="3833.7" y="548">1 (3.0)</text></g>
<g id="n168" class="n"><ellipse cx="3868" cy="369" rx="46.5" ry="18"/><text x="3868" y="374">Feature_5</text></g>
<g id="n169" class="n"><ellipse cx="4012" cy="369" rx="46.5" ry="18"/><text x="4012" y="374">Feature_8</text></g>
<g id="n170" class="l"><rect x="3796" y="438" width="74" height="36"/><text x="3833" y="461">3 (7.0/1.0)</text></g>
<g id="n171" class="l"><rect x="3887.7" y="438" width="60" height="36"/><text x="3917.7" y="461">2 (14.0)</text></g>
<g id="n172" class="n"><ellipse cx="4012" cy="456" rx="46.5" ry="18"/><text x="4012" y="461">Feature_3</text></g>
<g id="n173" class="l"><rect x="4076" y="438" width="54" height="36"/><text x="4103" y="461">5 (6.0)</text></g>
<g id="n174" class="n"><ellipse cx="3958" cy="543" rx="46.5" ry="18"/><text x="3958" y="548">Feature_1</text></g>
<g id="n175" class="n"><ellipse cx="4067.7" cy="543" rx="46.5" ry="18"/><text x="4067.7" y="548">Feature_0</text></g>
<g id="n176" class="l"><rect x="3849.7" y="612" width="60" height="36"/><text x="3879.7" y="635">3 (36.0)</text></g>
<g id="n177" class="l"><rect x="3928" y="612" width="74" height="36"/><text x="3965" y="635">5 (3.0/1.0)</text></g>
<g id="n178" class="l"><rect x="4034" y="612" width="54" height="36"/><text x="4061" y="635">4 (3.0)</text></g>
<g id="n179" class="l"><rect x="4119.7" y="612" width="54" height="36"/><text x="4146.7" y="635">5 (4.0)</text></g>
</g>
</svg>
